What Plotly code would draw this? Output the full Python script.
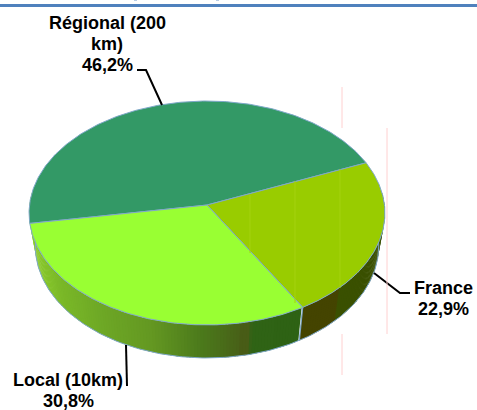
import numpy as np
import plotly.graph_objects as go

labels = ["Régional (200", "France", "Local (10km)"]
extra_lines = ["km)", "", ""]
values = [46.2, 22.9, 30.8]
value_labels = ["46,2%", "22,9%", "30,8%"]

slice_colors = ["#339966", "#99cc00", "#99ff33"]
edge_color = "#7fa8c9"

# side wall shading, left to right across the picture
side_x = [30, 60, 100, 150, 200, 239, 241, 249, 251, 298]
side_rgb = [(140, 204, 44), (122, 184, 40), (110, 168, 38), (100, 152, 34),
            (76, 122, 28), (72, 98, 24), (72, 92, 22), (72, 92, 22), (48, 100, 22), (46, 98, 20)]
france_side = [(68, 68, 0), (58, 80, 0)]

cx, cy = 207, 205      # where the slices meet
rx, ry = 177.5, 111.4  # radii before the tilt
tilt = 0.0714          # far edge looks smaller
depth = 33
base_shrink = 0.965    # the underside is a little narrower than the top
start_angle = 189.4


def project(theta, drop=0, shrink=1.0):
    c = np.cos(np.radians(theta))
    s = np.sin(np.radians(theta))
    w = 1 + tilt * s
    return cx + shrink * rx * c / w, cy - ry * s / w + drop


def side_color(x, name):
    if name == "France":
        return "rgb(%d,%d,%d)" % (france_side[0] if x < 339 else france_side[1])
    r = [np.interp(x, side_x, [c[i] for c in side_rgb]) for i in range(3)]
    return "rgb(%d,%d,%d)" % tuple(r)


fig = go.Figure()

# angles of each slice, clockwise from the start
shares = np.array(values) / sum(values) * 360
ends = start_angle - np.cumsum(shares)
starts = ends + shares

# side wall first so the top covers it, each strip overlaps the next one
for i, name in enumerate(labels):
    for a in np.arange(np.floor(starts[i]), ends[i], -1.0):
        a0 = min(a, starts[i])
        a1 = max(a - 1.6, ends[i])
        if np.sin(np.radians((a0 + a1) / 2)) > 0.12:
            continue
        tx, ty = project(np.array([a0, a1]))
        bx, by = project(np.array([a1, a0]), depth, base_shrink)
        fig.add_trace(go.Scatter(
            x=np.r_[tx, bx], y=np.r_[ty, by],
            fill="toself", mode="none",
            fillcolor=side_color(tx.mean(), name),
            hoverinfo="skip", showlegend=False,
        ))

# outline under the wall and the seam at the France / Local edge
arc = np.linspace(start_angle - 360, start_angle, 361)
arc = arc[np.sin(np.radians(arc)) < 0.12]
bx, by = project(arc, depth, base_shrink)
fig.add_trace(go.Scatter(x=bx, y=by, mode="lines", line=dict(color=edge_color, width=1),
                         hoverinfo="skip", showlegend=False))
sx0, sy0 = project(ends[1])
sx1, sy1 = project(ends[1], depth, base_shrink)
fig.add_trace(go.Scatter(x=[sx0, sx1], y=[sy0, sy1], mode="lines",
                         line=dict(color=edge_color, width=1.2), hoverinfo="skip", showlegend=False))

# top of the pie
for i, name in enumerate(labels):
    a = np.linspace(starts[i], ends[i], 200)
    px_, py_ = project(a)
    fig.add_trace(go.Scatter(
        x=np.r_[cx, px_, cx], y=np.r_[cy, py_, cy],
        fill="toself", mode="lines", fillcolor=slice_colors[i],
        line=dict(color=edge_color, width=1),
        hoverinfo="skip", showlegend=False,
    ))

# leader lines
leaders = [([137, 146, 162], [70, 70, 105]),
           ([374, 400, 410], [273, 293, 293]),
           ([126, 127], [345, 386])]
for lx, ly in leaders:
    fig.add_trace(go.Scatter(x=lx, y=ly, mode="lines", line=dict(color="black", width=2),
                             hoverinfo="skip", showlegend=False))

# stray pale lines, faint bands on the France slice and the header rule
pink = dict(type="line", line=dict(color="#ffd0d0", width=1))
band = dict(type="line", line=dict(color="#a4d20e", width=1), layer="above")
shapes = [dict(x0=342, x1=342, y0=87, y1=128, **pink),
          dict(x0=387, x1=387, y0=128, y1=334, **pink),
          dict(x0=342, x1=342, y0=334, y1=375, **pink),
          dict(x0=250, x1=250, y0=195, y1=253, **band),
          dict(x0=295, x1=295, y0=181, y1=303, **band),
          dict(x0=340, x1=340, y0=169, y1=288, **band),
          dict(type="rect", x0=0, x1=477, y0=4, y1=7, fillcolor="#4f81bd", line_width=0, layer="above"),
          dict(type="rect", x0=134, x1=137, y0=0, y1=1, fillcolor="#b8cce4", line_width=0),
          dict(type="rect", x0=216, x1=219, y0=0, y1=1, fillcolor="#b8cce4", line_width=0)]

fig.update_layout(
    width=477, height=410,
    margin=dict(l=0, r=0, t=0, b=0),
    paper_bgcolor="white", plot_bgcolor="white",
    showlegend=False,
    shapes=shapes,
    xaxis=dict(range=[0, 477], visible=False, fixedrange=True),
    yaxis=dict(range=[410, 0], visible=False, fixedrange=True),
)

# one annotation per text line, the line spacing is tighter than plotly's default
text_x = [107, 443, 68]
text_y = [23, 288, 380]
line_gap = 21
for name, more, val, tx, ty in zip(labels, extra_lines, value_labels, text_x, text_y):
    lines = [name, more, val] if more else [name, val]
    for n, line in enumerate(lines):
        fig.add_annotation(x=tx, y=ty + n * line_gap, text="<b>%s</b>" % line, showarrow=False,
                           font=dict(family="Liberation Sans", size=18, color="black"))

fig.write_html("out.html", config=dict(displayModeBar=False),
               post_script="document.body.style.margin='0';")
